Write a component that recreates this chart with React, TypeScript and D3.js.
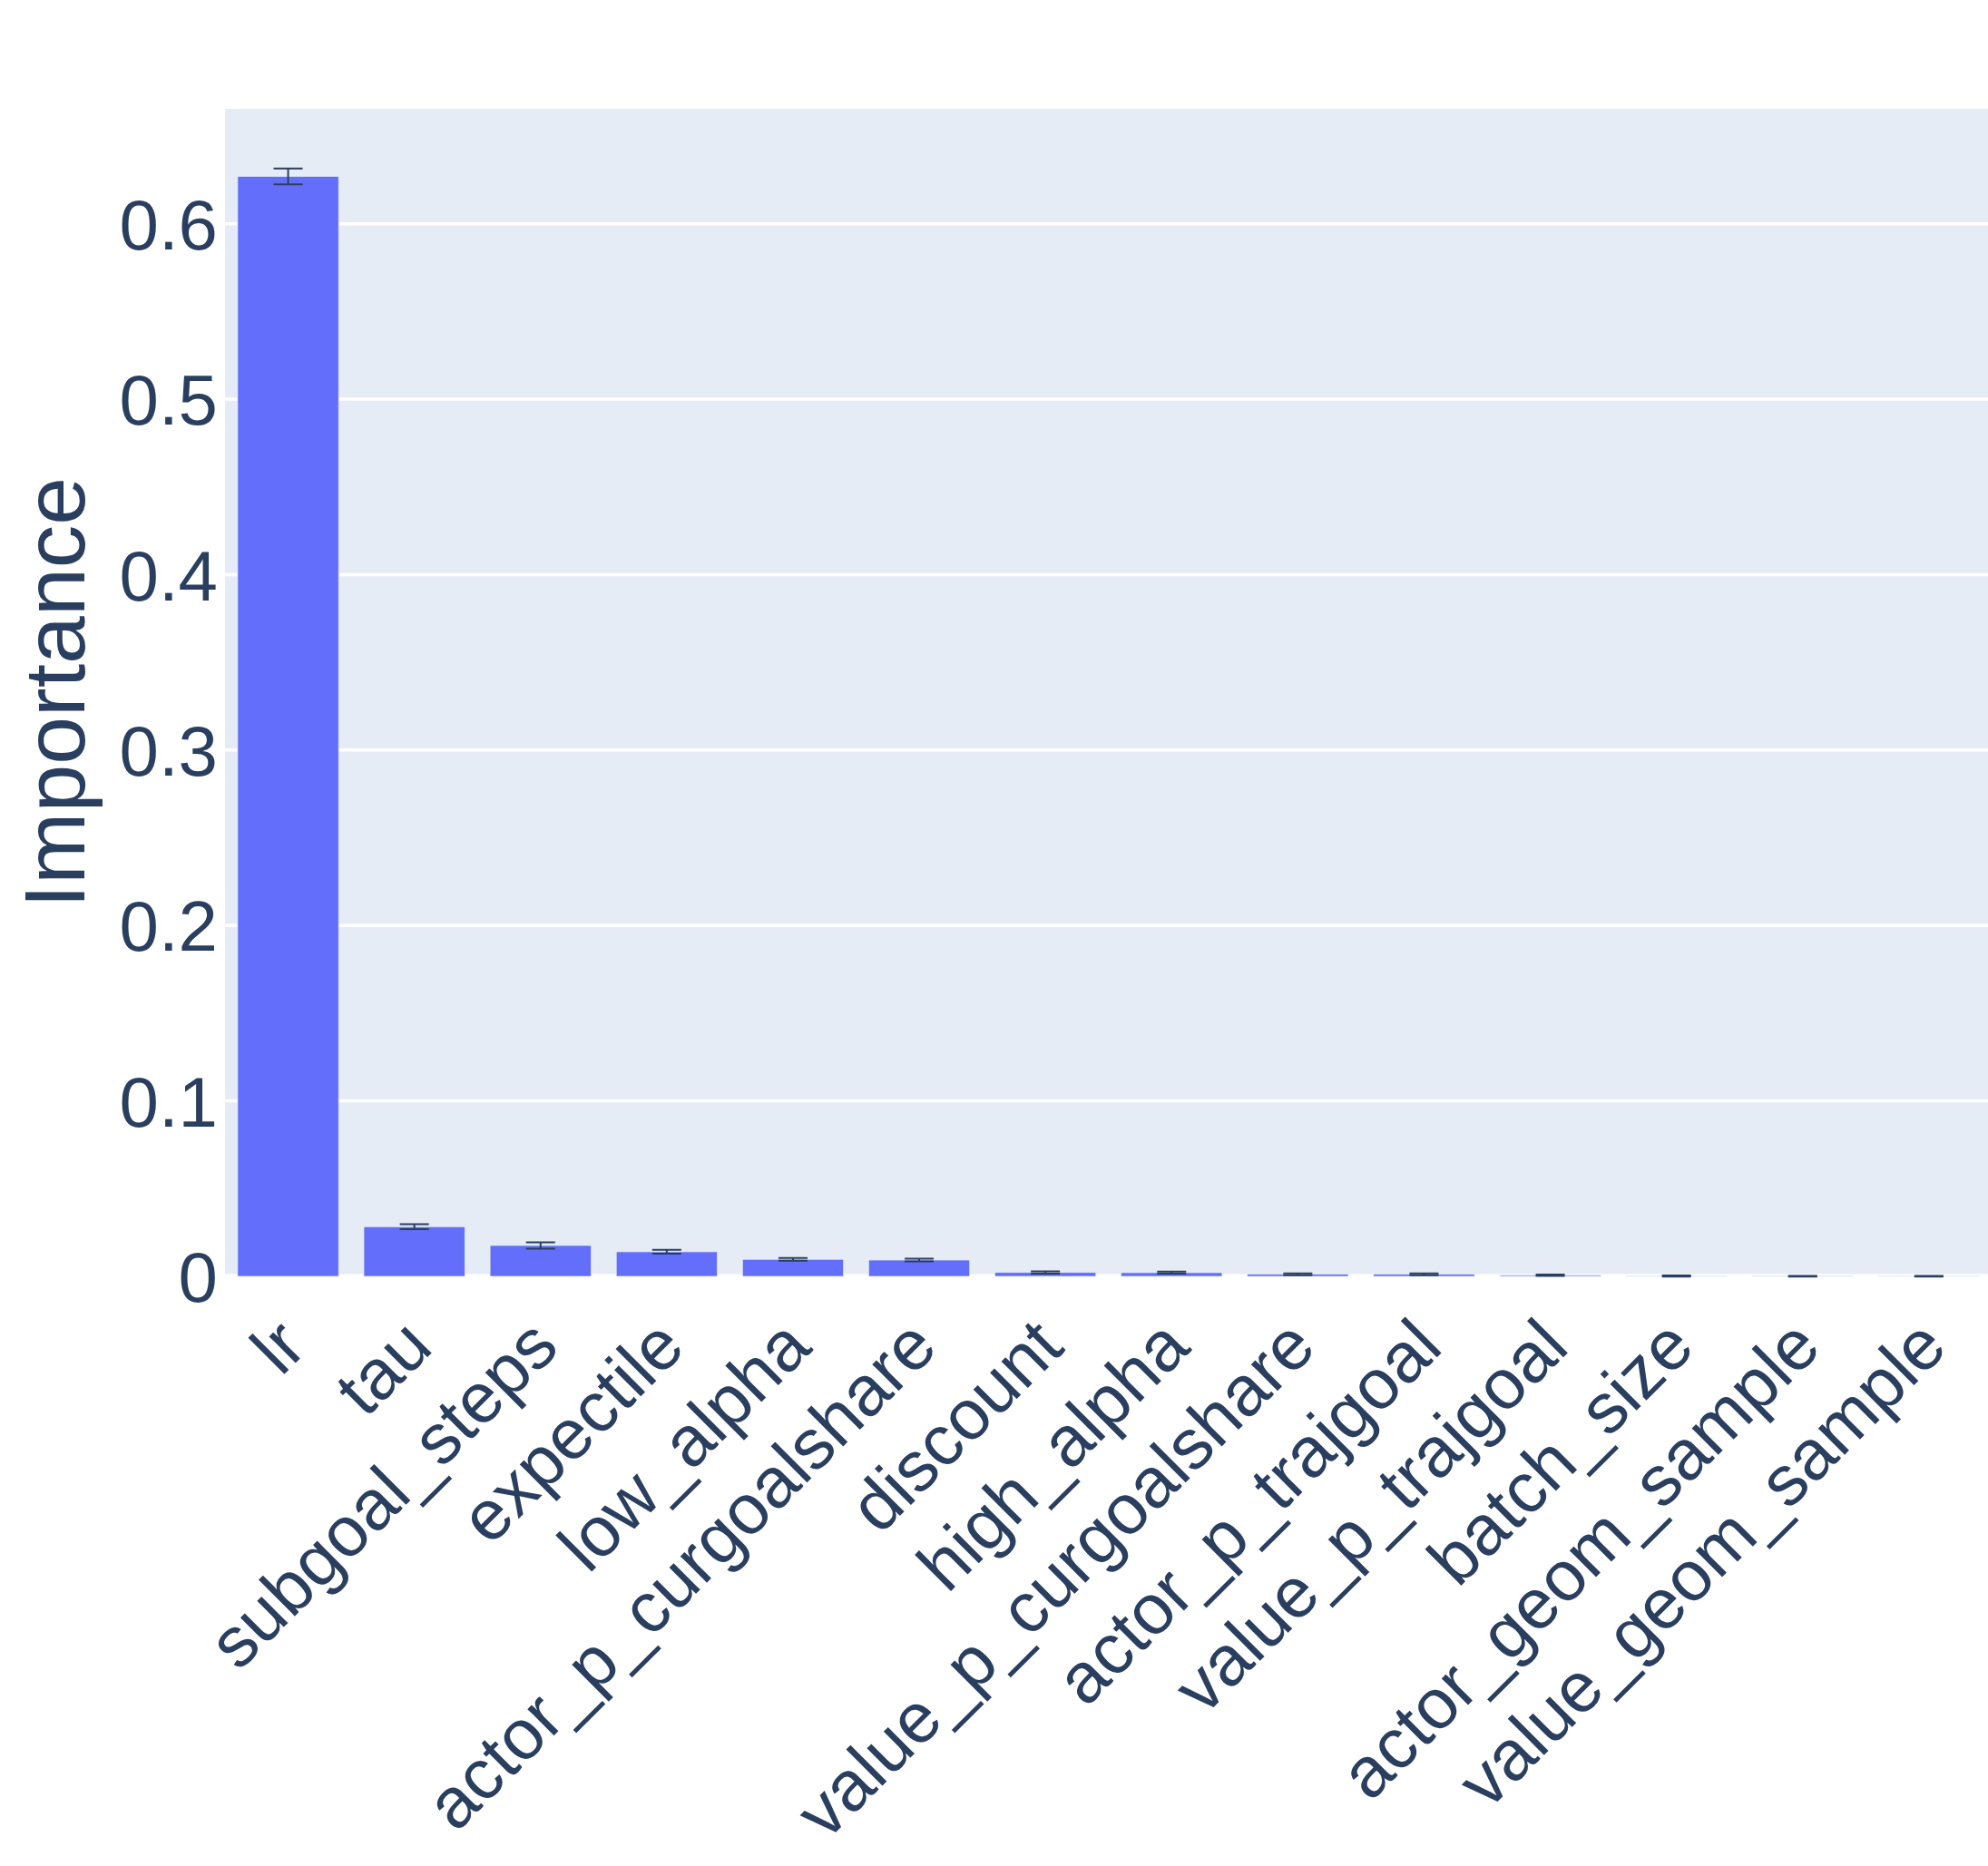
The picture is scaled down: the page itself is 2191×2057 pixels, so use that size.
import React, { useEffect, useRef } from "react";
import * as d3 from "d3";

// hyperparameter importances (mean) and their error (±)
const params = [
  "lr",
  "tau",
  "subgoal_steps",
  "expectile",
  "low_alpha",
  "actor_p_curgoalshare",
  "discount",
  "high_alpha",
  "value_p_curgoalshare",
  "actor_p_trajgoal",
  "value_p_trajgoal",
  "batch_size",
  "actor_geom_sample",
  "value_geom_sample",
];
const importance = [
  0.627, 0.0283, 0.0176, 0.014, 0.0097, 0.0093, 0.0022, 0.0021, 0.0012, 0.0012,
  0.0006, 0.0002, 0.0001, 0.00005,
];
const errors = [
  0.0045, 0.0014, 0.0018, 0.0011, 0.0008, 0.0008, 0.0006, 0.0006, 0.0005,
  0.0005, 0.0004, 0.0003, 0.0002, 0.0002,
];
const yTicks = [0, 0.1, 0.2, 0.3, 0.4, 0.5, 0.6];

const App = () => {
  const svgRef = useRef<SVGSVGElement>(null);

  useEffect(() => {
    const W = 2191;
    const H = 2057;
    const left = 248;
    const top = 120;
    const bottom = 1407;
    const plotW = 14 * 139.1;
    const ink = "#2a3f5f";
    const font = "'Liberation Sans', Arial, sans-serif";

    const svg = d3.select(svgRef.current);
    svg.selectAll("*").remove();
    svg.attr("width", W).attr("height", H);

    svg.append("rect").attr("width", W).attr("height", H).attr("fill", "#fff");

    const x = d3
      .scaleBand()
      .domain(params)
      .range([left, left + plotW])
      .paddingInner(0.2)
      .paddingOuter(0.1);

    const y = d3.scaleLinear().domain([0, 0.6655]).range([bottom, top]);

    // plot background
    svg
      .append("rect")
      .attr("x", left)
      .attr("y", top)
      .attr("width", plotW)
      .attr("height", bottom - top)
      .attr("fill", "#E5ECF6");

    // grid
    svg
      .selectAll(".grid")
      .data(yTicks.filter((d) => d > 0))
      .join("line")
      .attr("x1", left)
      .attr("x2", left + plotW)
      .attr("y1", (d) => y(d))
      .attr("y2", (d) => y(d))
      .attr("stroke", "#fff")
      .attr("stroke-width", 3.5);

    // zero line
    svg
      .append("line")
      .attr("x1", left)
      .attr("x2", left + plotW)
      .attr("y1", y(0))
      .attr("y2", y(0))
      .attr("stroke", "#fff")
      .attr("stroke-width", 5);

    // bars
    svg
      .selectAll(".bar")
      .data(params)
      .join("rect")
      .attr("x", (d) => x(d)!)
      .attr("y", (d, i) => y(importance[i]))
      .attr("width", x.bandwidth())
      .attr("height", (d, i) => y(0) - y(importance[i]))
      .attr("fill", "#636efa")
      .attr("stroke", "#E5ECF6")
      .attr("stroke-width", 0.7);

    // error bars
    const eb = svg
      .selectAll(".err")
      .data(params)
      .join("g")
      .attr("stroke", ink)
      .attr("stroke-width", 2);
    const cx = (d: string) => x(d)! + x.bandwidth() / 2;
    eb.append("line")
      .attr("x1", cx)
      .attr("x2", cx)
      .attr("y1", (d, i) => y(importance[i] + errors[i]))
      .attr("y2", (d, i) => y(importance[i] - errors[i]));
    eb.append("line")
      .attr("x1", (d) => cx(d) - 16)
      .attr("x2", (d) => cx(d) + 16)
      .attr("y1", (d, i) => y(importance[i] + errors[i]))
      .attr("y2", (d, i) => y(importance[i] + errors[i]));
    eb.append("line")
      .attr("x1", (d) => cx(d) - 16)
      .attr("x2", (d) => cx(d) + 16)
      .attr("y1", (d, i) => y(importance[i] - errors[i]))
      .attr("y2", (d, i) => y(importance[i] - errors[i]));

    // y tick labels
    svg
      .selectAll(".ytick")
      .data(yTicks)
      .join("text")
      .attr("x", left - 8)
      .attr("y", (d) => y(d))
      .attr("dy", "0.36em")
      .attr("text-anchor", "end")
      .attr("font-family", font)
      .attr("font-size", 78)
      .attr("fill", ink)
      .text((d) => (d === 0 ? "0" : d3.format(".1f")(d)));

    // x tick labels, rotated
    svg
      .selectAll(".xtick")
      .data(params)
      .join("text")
      .attr("transform", (d) => `translate(${cx(d) + 3},${bottom + 61}) rotate(-45)`)
      .attr("dy", "0.36em")
      .attr("text-anchor", "end")
      .attr("font-family", font)
      .attr("font-size", 78)
      .attr("fill", ink)
      .text((d) => d);

    // y axis title
    svg
      .append("text")
      .attr("transform", `translate(93,${(top + bottom) / 2}) rotate(-90)`)
      .attr("text-anchor", "middle")
      .attr("font-family", font)
      .attr("font-size", 95)
      .attr("fill", ink)
      .text("Importance");
  }, []);

  return (
    <div style={{ position: "absolute", left: 0, top: 0 }}>
      <svg ref={svgRef} style={{ display: "block" }} />
    </div>
  );
};

export default App;
